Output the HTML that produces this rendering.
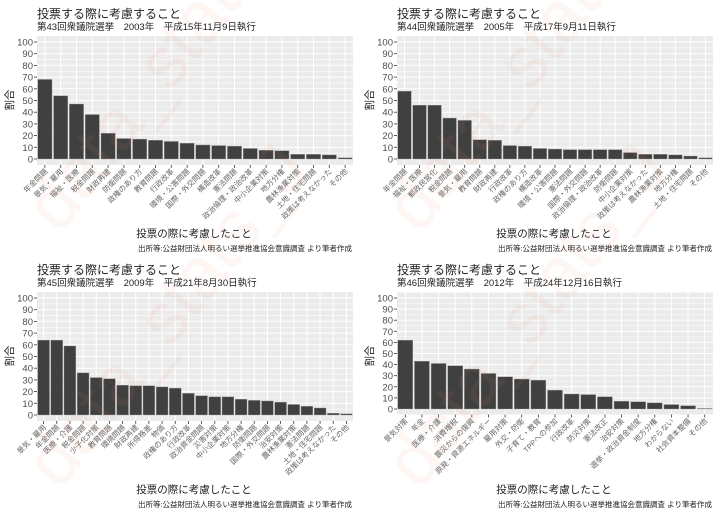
<!DOCTYPE html><html><head><meta charset="utf-8"><style>
body{margin:0;background:#fff;width:720px;height:513px;overflow:hidden}
svg text{font-family:"Liberation Sans","Noto Sans CJK JP",sans-serif}
</style></head><body>
<svg id="s" width="720" height="513" xmlns="http://www.w3.org/2000/svg"></svg>
<script>
const P=[
{ox:0,oy:0,sub:"第43回衆議院選挙　2003年　平成15年11月9日執行",y0:159,
L:["年金問題","景気・雇用","福祉・医療","税金問題","財政再建","防衛問題","政権のあり方","教育問題","行政改革","環境・公害問題","国際・外交問題","構造改革","憲法問題","政治倫理・政治改革","中小企業対策","地方分権","農林漁業対策","土地・住宅問題","政策は考えなかった","その他"],
V:[68,54,47,38,22,17.5,17,16,15,13.5,12,11.5,11,9,7.5,7,4,4,3.5,1]},
{ox:360,oy:0,sub:"第44回衆議院選挙　2005年　平成17年9月11日執行",y0:159,
L:["年金問題","福祉・医療","郵政民営化","税金問題","景気・雇用","教育問題","財政再建","行政改革","政権のあり方","構造改革","環境・公害問題","憲法問題","国際・外交問題","政治倫理・政治改革","防衛問題","中小企業対策","政策は考えなかった","農林漁業対策","地方分権","土地・住宅問題","その他"],
V:[58,46,46,35,33,16.5,16,11.5,11,9,8.5,8,8,8,8,5.5,4,4,3.5,2.5,1]},
{ox:0,oy:256,sub:"第45回衆議院選挙　2009年　平成21年8月30日執行",y0:159,
L:["景気・雇用","年金問題","医療・介護","税金問題","少子化対策","教育問題","環境問題","財政再建","所得格差","物価","政権のあり方","行政改革","政治資金問題","災害対策","中小企業対策","地方分権","防衛問題","国際・外交問題","治安対策","農林漁業対策","憲法問題","土地・住宅問題","政策は考えなかった","その他"],
V:[64,64,59,36,32,31,25.5,25,25,24,23,18.5,16.5,15.5,15.5,13.5,12.5,12,11,9,7.5,6,1.5,1]},
{ox:360,oy:256,sub:"第46回衆議院選挙　2012年　平成24年12月16日執行",y0:153,
L:["景気対策","年金","医療・介護","消費増税","震災からの復興","原発・資源エネルギー","雇用対策","外交・防衛","子育て・教育","TPPへの参加","行政改革","防災対策","憲法改正","治安対策","選挙・政治資金制度","地方分権","わからない","社会資本整備","その他"],
V:[62,43,41,39,36,32,29,27,26,17,13.5,13,11,7,6.5,5.5,4,3,0.5]}];
let h='';
for(const p of P){
 const x0=p.ox+37,x1=p.ox+353,y100=p.oy+42,yz=p.oy+p.y0,sc=(yz-y100)/100;
 const top=y100-sc*5,bot=yz+sc*5;
 h+=`<rect x="${x0}" y="${top}" width="${x1-x0}" height="${bot-top}" fill="#ebebeb"/>`;
 for(let v=5;v<=100;v+=10)h+=`<line x1="${x0}" x2="${x1}" y1="${yz-v*sc}" y2="${yz-v*sc}" stroke="#fff" stroke-width="0.5"/>`;
 for(let v=0;v<=100;v+=10){const y=yz-v*sc;h+=`<line x1="${x0}" x2="${x1}" y1="${y}" y2="${y}" stroke="#fff" stroke-width="1"/><line x1="${x0-3}" x2="${x0}" y1="${y}" y2="${y}" stroke="#333" stroke-width="0.8"/><text x="${x0-4}" y="${y+3.5}" font-size="9.5" fill="#4d4d4d" text-anchor="end">${v}</text>`;}
 const n=p.V.length,w=(x1-x0)/n;
 for(let i=0;i<n;i++){const cx=x0+w*(i+.5);
  h+=`<line x1="${cx}" x2="${cx}" y1="${top}" y2="${bot}" stroke="#fff" stroke-width="1"/>`;}
 for(let i=0;i<n;i++){const cx=x0+w*(i+.5),bw=w*.9,bh=p.V[i]*sc;
  h+=`<rect x="${cx-bw/2}" y="${yz-bh}" width="${bw}" height="${bh}" fill="#404040" stroke="#999" stroke-width="0.4"/>`;
  h+=`<line x1="${cx}" x2="${cx}" y1="${bot}" y2="${bot+3}" stroke="#333" stroke-width="0.8"/>`;
  h+=`<text transform="translate(${cx+3},${bot+7}) rotate(-45)" font-size="7.5" fill="#666" text-anchor="end">${p.L[i]}</text>`;}
 h+=`<text x="${p.ox+37}" y="${p.oy+18}" font-size="12" fill="#222">投票する際に考慮すること</text>`;
 h+=`<text x="${p.ox+37}" y="${p.oy+30}" font-size="9.5" fill="#222">${p.sub}</text>`;
 h+=`<text transform="translate(${p.ox+13},${p.oy+100}) rotate(-90)" font-size="10.5" fill="#222" text-anchor="middle">割合</text>`;
 h+=`<text x="${p.ox+194}" y="${p.oy+237}" font-size="10.5" fill="#222" text-anchor="middle">投票の際に考慮したこと</text>`;
 h+=`<text x="${p.ox+352}" y="${p.oy+251}" font-size="7.5" fill="#222" text-anchor="end">出所等:公益財団法人明るい選挙推進協会意識調査 より筆者作成</text>`;
 h+=`<text transform="translate(${p.ox+60},${p.oy+235}) rotate(-52)" font-size="72" fill="#e08a60" fill-opacity="0.08">data_stats_J</text>`;
}
document.getElementById('s').innerHTML=h;
</script></body></html>
